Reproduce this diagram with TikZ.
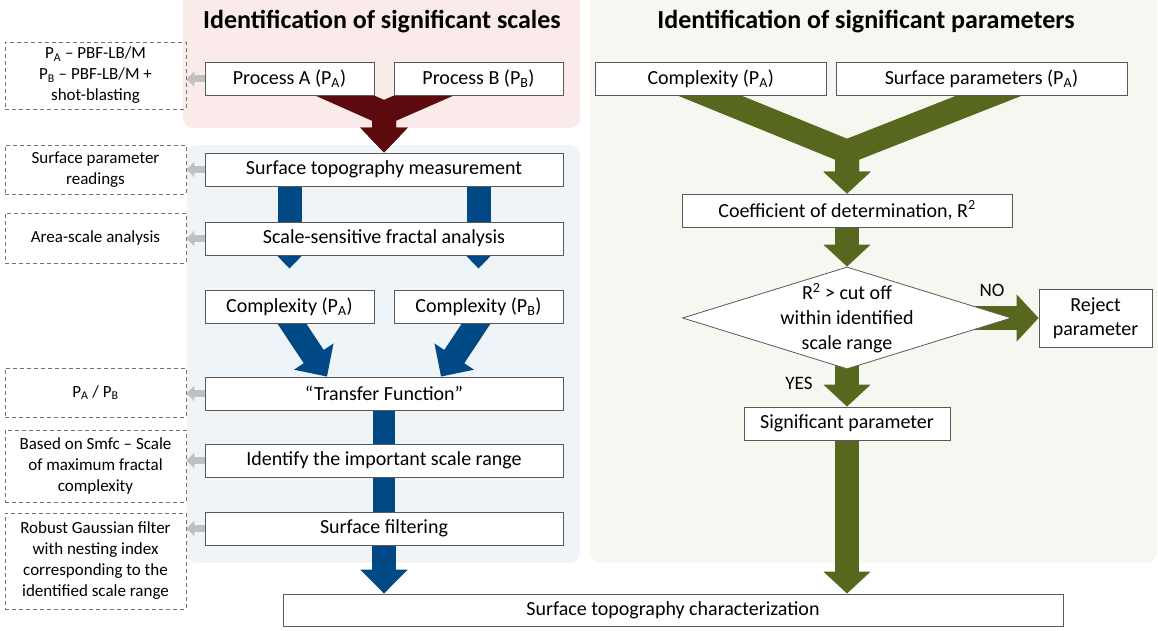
\documentclass[tikz,border=0pt]{standalone}
\usepackage{fontspec}
\setmainfont{Carlito}
\usetikzlibrary{arrows.meta,calc,shapes.geometric}
\pgfdeclarelayer{bg}
\pgfdeclarelayer{arr}
\pgfsetlayers{bg,arr,main}
\definecolor{panelred}{RGB}{250,234,234}
\definecolor{panelblue}{RGB}{239,244,249}
\definecolor{panelgreen}{RGB}{246,247,240}
\definecolor{arrred}{RGB}{92,10,14}
\definecolor{arrblue}{RGB}{0,73,133}
\definecolor{arrgreen}{RGB}{88,103,30}
\definecolor{arrgray}{RGB}{192,192,192}
\tikzset{
	box/.style={draw=black!65, line width=0.8pt, fill=white, inner sep=0pt, minimum height=33pt, align=center, font=\fontsize{20}{24}\selectfont},
	note/.style={draw=black!55, dash pattern=on 4pt off 3pt, line width=0.8pt, inner sep=0pt, minimum width=181pt, align=center, font=\fontsize{17}{21}\selectfont},
	title/.style={font=\bfseries\fontsize{26}{30}\selectfont},
	lbl/.style={font=\fontsize{19}{22}\selectfont},
	decide/.style={shape=diamond, draw=black!65, line width=0.8pt, fill=white, aspect=3.2, inner sep=-6pt, minimum width=329pt, minimum height=102pt, align=center, font=\fontsize{20}{25}\selectfont},
	redarrow/.style={draw=arrred, line width=24pt, -{Triangle[width=46pt,length=25pt]}},
	bluearrow/.style={draw=arrblue, line width=24pt, -{Triangle[width=46pt,length=24pt]}},
	blueshaft/.style={draw=arrblue, line width=22pt},
	greenarrow/.style={draw=arrgreen, line width=24pt, -{Triangle[width=46pt,length=22pt]}},
	grayarrow/.style={draw=arrgray, line width=7pt, -{Triangle[width=15pt,length=8pt]}}
}
\begin{document}
\begin{tikzpicture}[x=1pt,y=1pt]
	%%%%% START %%%%%
	\useasboundingbox (0,0) rectangle (1158,631);
	\begin{pgfonlayer}{bg}
		\fill[panelred, rounded corners=10pt] (183,503) rectangle (580,645);
		\fill[panelblue, rounded corners=10pt] (187,68) rectangle (580,486);
		\fill[panelgreen, rounded corners=10pt] (590,68) rectangle (1157,645);
	\end{pgfonlayer}
	
	\node[title] (ttlscale) at (382,609) {Identification of significant scales};
	\node[title] (ttlparam) at (866,609) {Identification of significant parameters};
	
	% left column
	\node[box, minimum width=169pt] (procA) at (289.5,552) {Process A (P\textsubscript{A})};
	\node[box, minimum width=169pt] (procB) at (478.5,552) {Process B (P\textsubscript{B})};
	\node[box, minimum width=358pt] (meas) at (384,461.5) {Surface topography measurement};
	\node[box, minimum width=358pt] (scale) at (384,392.5) {Scale-sensitive fractal analysis};
	\node[box, minimum width=169pt] (compA) at (289.5,324.5) {Complexity (P\textsubscript{A})};
	\node[box, minimum width=169pt] (compB) at (478.5,324.5) {Complexity (P\textsubscript{B})};
	\node[box, minimum width=358pt] (transfer) at (384,237.5) {``Transfer Function''};
	\node[box, minimum width=358pt] (ident) at (384,170.5) {Identify the important scale range};
	\node[box, minimum width=358pt] (filt) at (384,102.5) {Surface filtering};
	\node[box, minimum width=780pt, minimum height=32pt] (final) at (673,21) {Surface topography characterization};
	
	% notes
	\node[note, minimum height=67pt] (n1) at (95.5,555.5) {P\textsubscript{A} -- PBF-LB/M\\P\textsubscript{B} -- PBF-LB/M +\\shot-blasting};
	\node[note, minimum height=49pt] (n2) at (95.5,461.5) {Surface parameter\\readings};
	\node[note, minimum height=50pt] (n3) at (95.5,393) {Area-scale analysis};
	\node[note, minimum height=49pt] (n4) at (95.5,238.5) {P\textsubscript{A} / P\textsubscript{B}};
	\node[note, minimum height=72pt] (n5) at (95.5,165) {Based on Smfc -- Scale\\of maximum fractal\\complexity};
	\node[note, minimum height=96pt] (n6) at (95.5,70) {Robust Gaussian filter\\with nesting index\\corresponding to the\\identified scale range};
	
	% right column
	\node[box, minimum width=230.5pt] (compP) at (710.75,552) {Complexity (P\textsubscript{A})};
	\node[box, minimum width=291pt] (surfP) at (981.5,552) {Surface parameters (P\textsubscript{A})};
	\node[box, minimum width=330pt] (coef) at (847,420.5) {Coefficient of determination, R\textsuperscript{2}};
	\node[decide] (dec) at (847,313) {R\textsuperscript{2} > cut off\\within identified\\scale range};
	\node[box, minimum width=113pt, minimum height=58pt] (reject) at (1095.5,313) {Reject\\parameter};
	\node[box, minimum width=206pt] (signif) at (847,207.5) {Significant parameter};
	\node[lbl] (no) at (992,341) {NO};
	\node[lbl] (yes) at (799,248) {YES};
	
	\begin{pgfonlayer}{arr}
		\coordinate (rj) at ($(procA.east)!0.5!(procB.west)+(0,-34)$);
		\draw[redarrow] ($(procA.center)+(18,0)$) -- (rj) -- (meas.north);
		\draw[redarrow] ($(procB.center)+(-17,0)$) -- (rj) -- (meas.north);
		
		\draw[bluearrow] (meas.center -| compA.center) -- ($(scale.south -| compA.center)+(0,-13)$);
		\draw[bluearrow] (meas.center -| compB.center) -- ($(scale.south -| compB.center)+(0,-13)$);
		\draw[bluearrow] ($(compA.center)+(-9,0)$) -- ($(transfer.north)+(-57,0)$);
		\draw[bluearrow] ($(compB.center)+(9,0)$) -- ($(transfer.north)+(57,0)$);
		\draw[blueshaft] (transfer.center) -- (filt.center);
		\draw[bluearrow] (filt.center) -- (filt.center |- final.north);
		
		\coordinate (gj) at ($(coef.north)+(0,42)$);
		\draw[greenarrow] ($(compP.center)+(-42,0)$) -- (gj) -- (coef.north);
		\draw[greenarrow] ($(surfP.center)+(50,0)$) -- (gj) -- (coef.north);
		\draw[greenarrow] (coef.center) -- (dec.north);
		\draw[greenarrow] (dec.center) -- (reject.west);
		\draw[greenarrow] (dec.center) -- (signif.north);
		\draw[greenarrow] (signif.center) -- (signif.center |- final.north);
		
		\foreach \b/\n in {procA/n1, meas/n2, scale/n3, transfer/n4, ident/n5, filt/n6}
			\draw[grayarrow] (\b.center) -- (\b.center -| \n.east);
	\end{pgfonlayer}
	%%%%% END %%%%%
\end{tikzpicture}
\end{document}
